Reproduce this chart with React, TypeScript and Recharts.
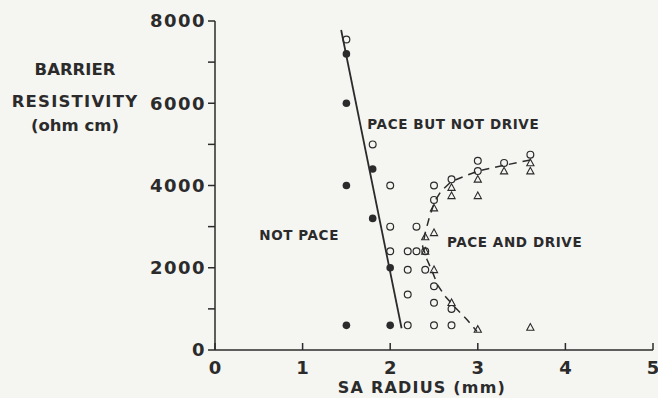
import {
  ScatterChart,
  Scatter,
  XAxis,
  YAxis,
  ReferenceDot,
} from "recharts";

type Pt = { x: number; y: number };

// solid dots: no pacing
const notPacePts: Pt[] = [
  { x: 1.5, y: 7200 },
  { x: 1.5, y: 6000 },
  { x: 1.8, y: 4400 },
  { x: 1.5, y: 4000 },
  { x: 1.8, y: 3200 },
  { x: 2.0, y: 2000 },
  { x: 1.5, y: 600 },
  { x: 2.0, y: 600 },
];

// open circles: pace
const paceCircles: Pt[] = [
  { x: 1.5, y: 7550 },
  { x: 1.8, y: 5000 },
  { x: 2.0, y: 4000 },
  { x: 2.0, y: 3000 },
  { x: 2.0, y: 2400 },
  { x: 2.5, y: 4000 },
  { x: 2.7, y: 4150 },
  { x: 3.0, y: 4600 },
  { x: 3.0, y: 4350 },
  { x: 3.3, y: 4550 },
  { x: 3.6, y: 4750 },
  { x: 2.5, y: 3650 },
  { x: 2.3, y: 3000 },
  { x: 2.2, y: 2400 },
  { x: 2.3, y: 2400 },
  { x: 2.4, y: 2400 },
  { x: 2.2, y: 1950 },
  { x: 2.4, y: 1950 },
  { x: 2.5, y: 1550 },
  { x: 2.2, y: 1350 },
  { x: 2.5, y: 1150 },
  { x: 2.7, y: 1000 },
  { x: 2.2, y: 600 },
  { x: 2.5, y: 600 },
  { x: 2.7, y: 600 },
];

// open triangles: pace and drive
const driveTriangles: Pt[] = [
  { x: 2.7, y: 3950 },
  { x: 2.7, y: 3750 },
  { x: 3.0, y: 4150 },
  { x: 3.0, y: 3750 },
  { x: 3.3, y: 4350 },
  { x: 3.6, y: 4550 },
  { x: 3.6, y: 4350 },
  { x: 2.5, y: 3450 },
  { x: 2.5, y: 2850 },
  { x: 2.4, y: 2750 },
  { x: 2.4, y: 2400 },
  { x: 2.5, y: 1950 },
  { x: 2.7, y: 1150 },
  { x: 3.0, y: 500 },
  { x: 3.6, y: 550 },
];

const paceBoundary: Pt[] = [
  { x: 1.44, y: 7780 },
  { x: 2.13, y: 530 },
];

const driveBoundary: Pt[] = [
  { x: 3.6, y: 4620 },
  { x: 3.3, y: 4490 },
  { x: 3.0, y: 4350 },
  { x: 2.83, y: 4210 },
  { x: 2.7, y: 4100 },
  { x: 2.58, y: 3860 },
  { x: 2.51, y: 3620 },
  { x: 2.45, y: 3250 },
  { x: 2.4, y: 2850 },
  { x: 2.37, y: 2520 },
  { x: 2.42, y: 2200 },
  { x: 2.48, y: 1910 },
  { x: 2.54, y: 1585 },
  { x: 2.63, y: 1300 },
  { x: 2.75, y: 1015 },
  { x: 2.88, y: 730 },
  { x: 2.99, y: 450 },
];

const regionNotes = [
  { x: 2.72, y: 5490, text: "PACE BUT NOT DRIVE" },
  { x: 0.96, y: 2800, text: "NOT PACE" },
  { x: 3.42, y: 2620, text: "PACE AND DRIVE" },
];

const xTicks = [0, 1, 2, 3, 4, 5];
const yTicks = [0, 1000, 2000, 3000, 4000, 5000, 6000, 7000, 8000];
const yTitle = ["BARRIER", "RESISTIVITY", "(ohm cm)"];

const INK = "#2b2b2b";
const FONT = "'DejaVu Sans', Verdana, sans-serif";

const Dot = (p: any) => <circle cx={p.cx} cy={p.cy} r={3.8} fill={INK} />;
const Ring = (p: any) => (
  <circle cx={p.cx} cy={p.cy} r={3.4} fill="none" stroke={INK} strokeWidth={1.2} />
);
const Tri = (p: any) => (
  <polygon
    points={`${p.cx},${p.cy - 3.8} ${p.cx - 3.6},${p.cy + 2.8} ${p.cx + 3.6},${p.cy + 2.8}`}
    fill="none"
    stroke={INK}
    strokeWidth={1.1}
  />
);
const NoMark = () => <g />;

const XTick = (p: any) => (
  <g>
    <line x1={p.x} x2={p.x} y1={p.y} y2={p.y - 7} stroke={INK} strokeWidth={1.5} />
    <text
      x={p.x}
      y={p.y + 24}
      textAnchor="middle"
      fill={INK}
      fontSize={18}
      fontWeight={700}
      fontFamily={FONT}
    >
      {p.payload.value}
    </text>
  </g>
);

const XTitle = (p: any) => {
  const vb = p.viewBox;
  return (
    <text
      x={vb.x + vb.width / 2 - 12}
      y={vb.y + 43}
      textAnchor="middle"
      fill={INK}
      fontSize={16}
      fontWeight={700}
      fontFamily={FONT}
      letterSpacing={1.2}
    >
      SA RADIUS (mm)
    </text>
  );
};

const YTitle = () => (
  <g>
    {yTitle.map((t, i) => (
      <text
        key={t}
        x={75}
        y={[75, 107, 131][i]}
        textAnchor="middle"
        fill={INK}
        fontSize={16.5}
        fontWeight={700}
        fontFamily={FONT}
        letterSpacing={[0, 1.2, 0][i]}
      >
        {t}
      </text>
    ))}
  </g>
);

const noteLabel = (text: string) => (p: any) => (
  <text
    x={p.viewBox.x + p.viewBox.width / 2}
    y={p.viewBox.y + p.viewBox.height / 2}
    textAnchor="middle"
    dominantBaseline="central"
    fill={INK}
    fontSize={13.5}
    fontWeight={700}
    fontFamily={FONT}
    letterSpacing={0.6}
  >
    {text}
  </text>
);

export default function App() {
  return (
    <div
      style={{
        position: "absolute",
        left: 0,
        top: 0,
        width: 658,
        height: 398,
        background: "#f5f5f2",
      }}
    >
      <ScatterChart
        width={658}
        height={398}
        margin={{ top: 21, right: 5, bottom: 0, left: 0 }}
      >
        <XAxis
          type="number"
          dataKey="x"
          domain={[0, 5]}
          ticks={xTicks}
          height={48}
          stroke={INK}
          strokeWidth={1.5}
          tickLine={false}
          tickSize={0}
          tickMargin={0}
          tick={<XTick />}
          label={{ content: <XTitle /> }}
        />
        <YAxis
          type="number"
          dataKey="y"
          domain={[0, 8000]}
          ticks={yTicks}
          width={215}
          stroke={INK}
          strokeWidth={1.5}
          tickSize={7}
          tickMargin={2}
          tickFormatter={(v: number) => (v % 2000 === 0 ? String(v) : "")}
          tick={{
            fill: INK,
            fontSize: 18,
            fontWeight: 700,
            fontFamily: FONT,
            letterSpacing: 1.5,
          }}
          label={{ content: <YTitle /> }}
        />
        <Scatter
          data={paceBoundary}
          line={{ stroke: INK, strokeWidth: 1.8 }}
          shape={<NoMark />}
          isAnimationActive={false}
        />
        <Scatter
          data={driveBoundary}
          line={{ stroke: INK, strokeWidth: 1.5, strokeDasharray: "8 6" }}
          shape={<NoMark />}
          isAnimationActive={false}
        />
        <Scatter data={notPacePts} shape={<Dot />} isAnimationActive={false} />
        <Scatter data={paceCircles} shape={<Ring />} isAnimationActive={false} />
        <Scatter data={driveTriangles} shape={<Tri />} isAnimationActive={false} />
        {regionNotes.map((n) => (
          <ReferenceDot
            key={n.text}
            x={n.x}
            y={n.y}
            r={0}
            stroke="none"
            fill="none"
            label={noteLabel(n.text)}
          />
        ))}
      </ScatterChart>
    </div>
  );
}
